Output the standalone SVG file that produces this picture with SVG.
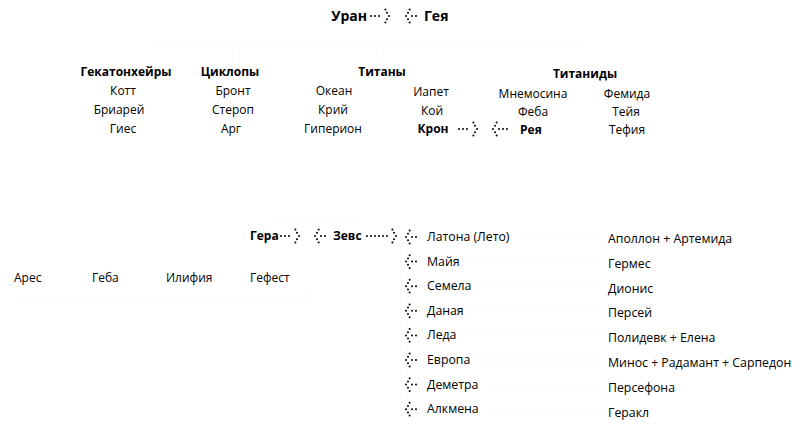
<svg xmlns="http://www.w3.org/2000/svg" width="800" height="424" viewBox="0 0 800 424">
<style>
text{font-family:"Open Sans","Liberation Sans",sans-serif;font-size:12px;fill:#000}
.b{font-weight:700}
.t{font-size:14px;font-weight:700}
.m{text-anchor:middle}
.e{text-anchor:end}
.r{font-size:12.3px}
.dot{fill:none;stroke:#000;stroke-width:2;stroke-linecap:round;stroke-dasharray:0 4}
.faint{fill:none;stroke:#f2f2f2;stroke-width:1;stroke-dasharray:1 1.5}
.chev{fill:#000}
</style>
<defs>
<g id="cr" class="chev"><circle cx="-3.6" cy="-6.4" r="1"/><circle cx="-2" cy="-3.2" r="1"/><circle cx="0" cy="0" r="1"/><circle cx="-2" cy="3.2" r="1"/><circle cx="-3.6" cy="6.4" r="1"/></g>
<g id="cl" class="chev"><circle cx="3.6" cy="-6.4" r="1"/><circle cx="2" cy="-3.2" r="1"/><circle cx="0" cy="0" r="1"/><circle cx="2" cy="3.2" r="1"/><circle cx="3.6" cy="6.4" r="1"/></g>
</defs>

<g id="connectors">
  <!-- faint tree lines -->
  <path class="faint" d="M150 46H585M401 39V46M233 46V62M383 48V62"/>
  <path class="faint" d="M270 218H358V226"/>
  <path class="faint" d="M401 230V419"/>
  <path class="faint" d="M12 299H311V292"/>
  <path class="faint" d="M520 238H601M465 261.6H601M480 286.2H601M475 310.8H601M465 335.4H601M481 360H601M488 384.6H601M488 409.2H601"/>
  <!-- Uran - Gaia -->
  <path class="dot" d="M371 16H383"/><use href="#cr" x="389" y="16"/>
  <use href="#cl" x="406" y="16"/><path class="dot" d="M412 16H420"/>
  <!-- Kronos - Rhea -->
  <path class="dot" d="M459 129H471"/><use href="#cr" x="477" y="129"/>
  <use href="#cl" x="493" y="129"/><path class="dot" d="M499 129H511"/>
  <!-- Hera - Zeus -->
  <path class="dot" d="M281 236H293"/><use href="#cr" x="299" y="236"/>
  <use href="#cl" x="315" y="236"/><path class="dot" d="M321 236H329"/>
  <path class="dot" d="M367 236H391"/><use href="#cr" x="396" y="236"/>
  <!-- Zeus consorts -->
  <use href="#cl" x="406" y="237"/><path class="dot" d="M412 237H420"/>
  <use href="#cl" x="406" y="261.6"/><path class="dot" d="M412 261.6H420"/>
  <use href="#cl" x="406" y="286.2"/><path class="dot" d="M412 286.2H420"/>
  <use href="#cl" x="406" y="310.8"/><path class="dot" d="M412 310.8H420"/>
  <use href="#cl" x="406" y="335.4"/><path class="dot" d="M412 335.4H420"/>
  <use href="#cl" x="406" y="360"/><path class="dot" d="M412 360H420"/>
  <use href="#cl" x="406" y="384.6"/><path class="dot" d="M412 384.6H420"/>
  <use href="#cl" x="406" y="409.2"/><path class="dot" d="M412 409.2H420"/>
</g>

<g id="uran"><text class="t e" x="367" y="21">Уран</text></g>
<g id="gaia"><text class="t" x="424" y="21">Гея</text></g>

<g id="hecatoncheires">
  <text class="b m" x="126" y="76">Гекатонхейры</text>
  <text class="m" x="123" y="95">Котт</text>
  <text class="m" x="119" y="114">Бриарей</text>
  <text class="m" x="123" y="133">Гиес</text>
</g>
<g id="cyclopes">
  <text class="b m" x="230" y="76">Циклопы</text>
  <text class="m" x="233" y="95">Бронт</text>
  <text class="m" x="233" y="114">Стероп</text>
  <text class="m" x="231" y="133">Арг</text>
</g>
<g id="titans">
  <text class="b m" x="382" y="76">Титаны</text>
  <text class="m" x="334" y="95">Океан</text>
  <text class="m" x="333" y="114">Крий</text>
  <text class="m" x="333" y="133">Гиперион</text>
  <text class="m" x="431" y="96">Иапет</text>
  <text class="m" x="432" y="115">Кой</text>
</g>
<g id="kronos"><text class="b m" x="433" y="133">Крон</text></g>
<g id="titanides">
  <text class="b m" x="585" y="78">Титаниды</text>
  <text class="m" x="533" y="98">Мнемосина</text>
  <text class="m" x="533" y="116">Феба</text>
  <text class="m" x="627" y="98">Фемида</text>
  <text class="m" x="626" y="116">Тейя</text>
  <text class="m" x="627" y="134">Тефия</text>
</g>
<g id="rhea"><text class="b" x="520" y="134">Рея</text></g>

<g id="hera"><text class="b" x="250" y="240">Гера</text></g>
<g id="zeus"><text class="b" x="333" y="240">Зевс</text></g>

<g id="children-hera">
  <text x="14" y="282">Арес</text>
  <text x="92" y="282">Геба</text>
  <text x="166" y="282">Илифия</text>
  <text x="250" y="282">Гефест</text>
</g>

<g id="consorts">
  <text class="r" x="427" y="241">Латона (Лето)</text>
  <text class="r" x="427" y="265.6">Майя</text>
  <text class="r" x="427" y="290.2">Семела</text>
  <text class="r" x="427" y="314.8">Даная</text>
  <text class="r" x="427" y="339.4">Леда</text>
  <text class="r" x="427" y="364">Европа</text>
  <text class="r" x="427" y="388.6">Деметра</text>
  <text class="r" x="427" y="413.2">Алкмена</text>
</g>

<g id="children-zeus">
  <text class="r" x="608" y="243">Аполлон + Артемида</text>
  <text class="r" x="608" y="267.8">Гермес</text>
  <text class="r" x="608" y="292.6">Дионис</text>
  <text class="r" x="608" y="317.4">Персей</text>
  <text class="r" x="608" y="342.2">Полидевк + Елена</text>
  <text class="r" x="608" y="367">Минос + Радамант + Сарпедон</text>
  <text class="r" x="608" y="391.8">Персефона</text>
  <text class="r" x="608" y="416.6">Геракл</text>
</g>
</svg>
